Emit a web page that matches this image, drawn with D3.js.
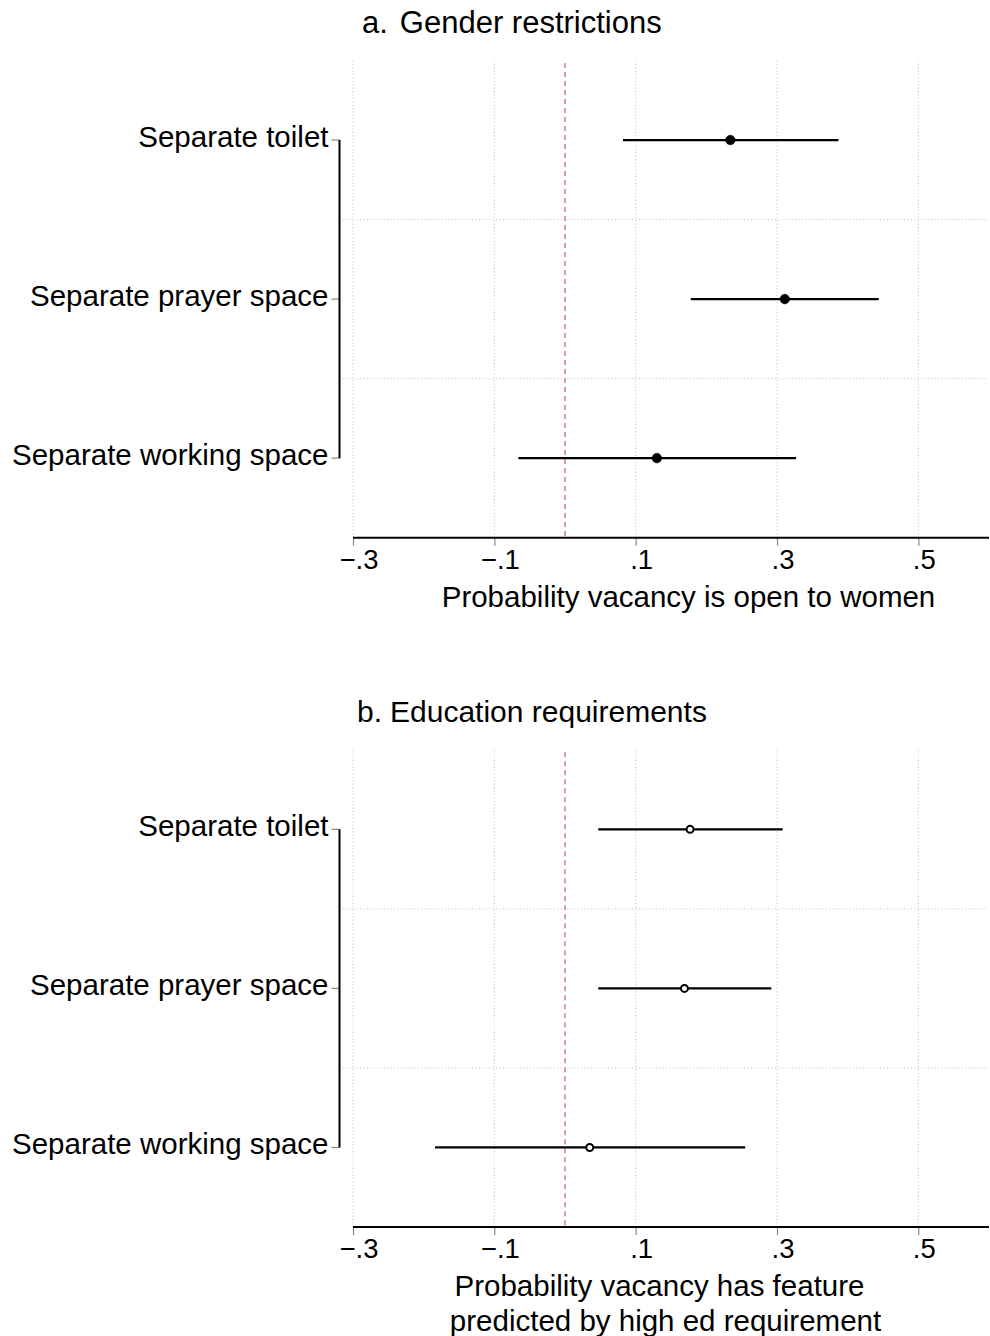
<!DOCTYPE html>
<html>
<head>
<meta charset="utf-8">
<script src="https://cdn.jsdelivr.net/npm/d3@7"></script>
<style>
  html, body { margin: 0; padding: 0; background: #fff; }
  svg { display: block; font-family: "Liberation Sans", Arial, Helvetica, sans-serif; }
</style>
</head>
<body>
<svg id="chart" width="990" height="1336"></svg>
<script>
// ---- data ----
const categories = ["Separate toilet", "Separate prayer space", "Separate working space"];

const genderEst = [0.234, 0.311, 0.130];
const genderLo  = [0.082, 0.178, -0.066];
const genderHi  = [0.387, 0.444, 0.327];

const eduEst = [0.177, 0.169, 0.035];
const eduLo  = [0.047, 0.047, -0.184];
const eduHi  = [0.308, 0.292, 0.255];

const tickValues = [-0.3, -0.1, 0.1, 0.3, 0.5];
const tickLabels = ["\u2212.3", "\u2212.1", ".1", ".3", ".5"];
const xDomain = [-0.3, 0.6];

const panelPrefixes = ["a.", "b."];
const panelTitles = ["Gender restrictions", "Education requirements"];
const axisTitles = [["Probability vacancy is open to women"],
                    ["Probability vacancy has feature", "predicted by high ed requirement"]];

// ---- layout ----
const svg = d3.select("#chart");
const x = d3.scaleLinear().domain(xDomain).range([353, 989]);

function drawPanel(off, est, lo, hi, filled, prefix, title, titleX, titleGap, titleSize, axTitle, axTitleX) {
  const g = svg.append("g").attr("transform", `translate(0,${off})`);
  const top = 60.5, bottom = 537.7;
  const y = d3.scaleBand().domain(categories).range([top, bottom]).padding(0);
  const yc = d => y(d) + y.bandwidth() / 2;

  // title
  const t = g.append("text").attr("x", titleX).attr("y", 33).attr("text-anchor", "start")
    .attr("font-size", titleSize).attr("fill", "#000");
  t.append("tspan").text(prefix);
  t.append("tspan").attr("dx", titleGap).text(title);

  // vertical grid
  g.selectAll(".vgrid").data(tickValues).join("line")
    .attr("x1", d => x(d)).attr("x2", d => x(d))
    .attr("y1", top).attr("y2", bottom)
    .attr("stroke", "#bdbdbd").attr("stroke-width", 1).attr("stroke-dasharray", "1,2.4");

  // horizontal grid between categories
  const bounds = categories.slice(1).map(c => y(c));
  g.selectAll(".hgrid").data(bounds).join("line")
    .attr("x1", 343).attr("x2", 989)
    .attr("y1", d => d).attr("y2", d => d)
    .attr("stroke", "#bdbdbd").attr("stroke-width", 1).attr("stroke-dasharray", "1,2.4");

  // zero reference line
  g.append("line").attr("x1", x(0)).attr("x2", x(0)).attr("y1", 63).attr("y2", bottom)
    .attr("stroke", "#d07aa8").attr("stroke-width", 1.5).attr("stroke-dasharray", "5,4");

  // x axis
  const xAxis = d3.axisBottom(x).tickValues(tickValues)
    .tickFormat((d, i) => tickLabels[i]).tickSize(8).tickSizeOuter(0);
  const ax = g.append("g").attr("transform", `translate(0,${bottom})`).call(xAxis);
  ax.select(".domain").remove();
  ax.selectAll(".tick line").attr("stroke", "#888").attr("stroke-width", 1.2);
  ax.selectAll(".tick text").attr("font-size", 27.5).attr("fill", "#000")
    .attr("font-family", "Liberation Sans, Arial, sans-serif")
    .attr("dy", null).attr("y", 31).attr("x", 5.5);
  g.append("line").attr("x1", 353).attr("x2", 989).attr("y1", bottom).attr("y2", bottom)
    .attr("stroke", "#000").attr("stroke-width", 2);

  // y axis
  const yAxisX = 339.5;
  const yAxis = d3.axisLeft(y).tickSize(8).tickSizeOuter(0).tickPadding(3);
  const ay = g.append("g").attr("transform", `translate(${yAxisX},0)`).call(yAxis);
  ay.select(".domain").remove();
  ay.selectAll(".tick line").attr("stroke", "#888").attr("stroke-width", 1.2);
  ay.selectAll(".tick text").attr("font-size", 29.5).attr("fill", "#000")
    .attr("font-family", "Liberation Sans, Arial, sans-serif").attr("dy", "0.22em");
  g.append("line").attr("x1", yAxisX).attr("x2", yAxisX)
    .attr("y1", yc(categories[0])).attr("y2", yc(categories[categories.length - 1]))
    .attr("stroke", "#000").attr("stroke-width", 2);

  // CIs
  const rows = categories.map((c, i) => ({c, est: est[i], lo: lo[i], hi: hi[i]}));
  g.selectAll(".ci").data(rows).join("line")
    .attr("x1", d => x(d.lo)).attr("x2", d => x(d.hi))
    .attr("y1", d => yc(d.c)).attr("y2", d => yc(d.c))
    .attr("stroke", "#000").attr("stroke-width", 2.2);

  // points
  g.selectAll(".pt").data(rows).join("circle")
    .attr("cx", d => x(d.est)).attr("cy", d => yc(d.c))
    .attr("r", filled ? 4.8 : 3.5)
    .attr("fill", filled ? "#000" : "#fff")
    .attr("stroke", "#000").attr("stroke-width", filled ? 0.5 : 2);

  // axis title
  axTitle.forEach((tt, i) => {
    g.append("text").attr("x", axTitleX[i]).attr("y", 607 + i * 35)
      .attr("text-anchor", "middle").attr("font-size", 29.5).attr("fill", "#000").text(tt);
  });
}

drawPanel(0, genderEst, genderLo, genderHi, true, panelPrefixes[0], panelTitles[0], 362, 12, 31, axisTitles[0], [688.5]);
drawPanel(689.3, eduEst, eduLo, eduHi, false, panelPrefixes[1], panelTitles[1], 357, 8, 30, axisTitles[1], [659.5, 665.5]);
</script>
</body>
</html>
